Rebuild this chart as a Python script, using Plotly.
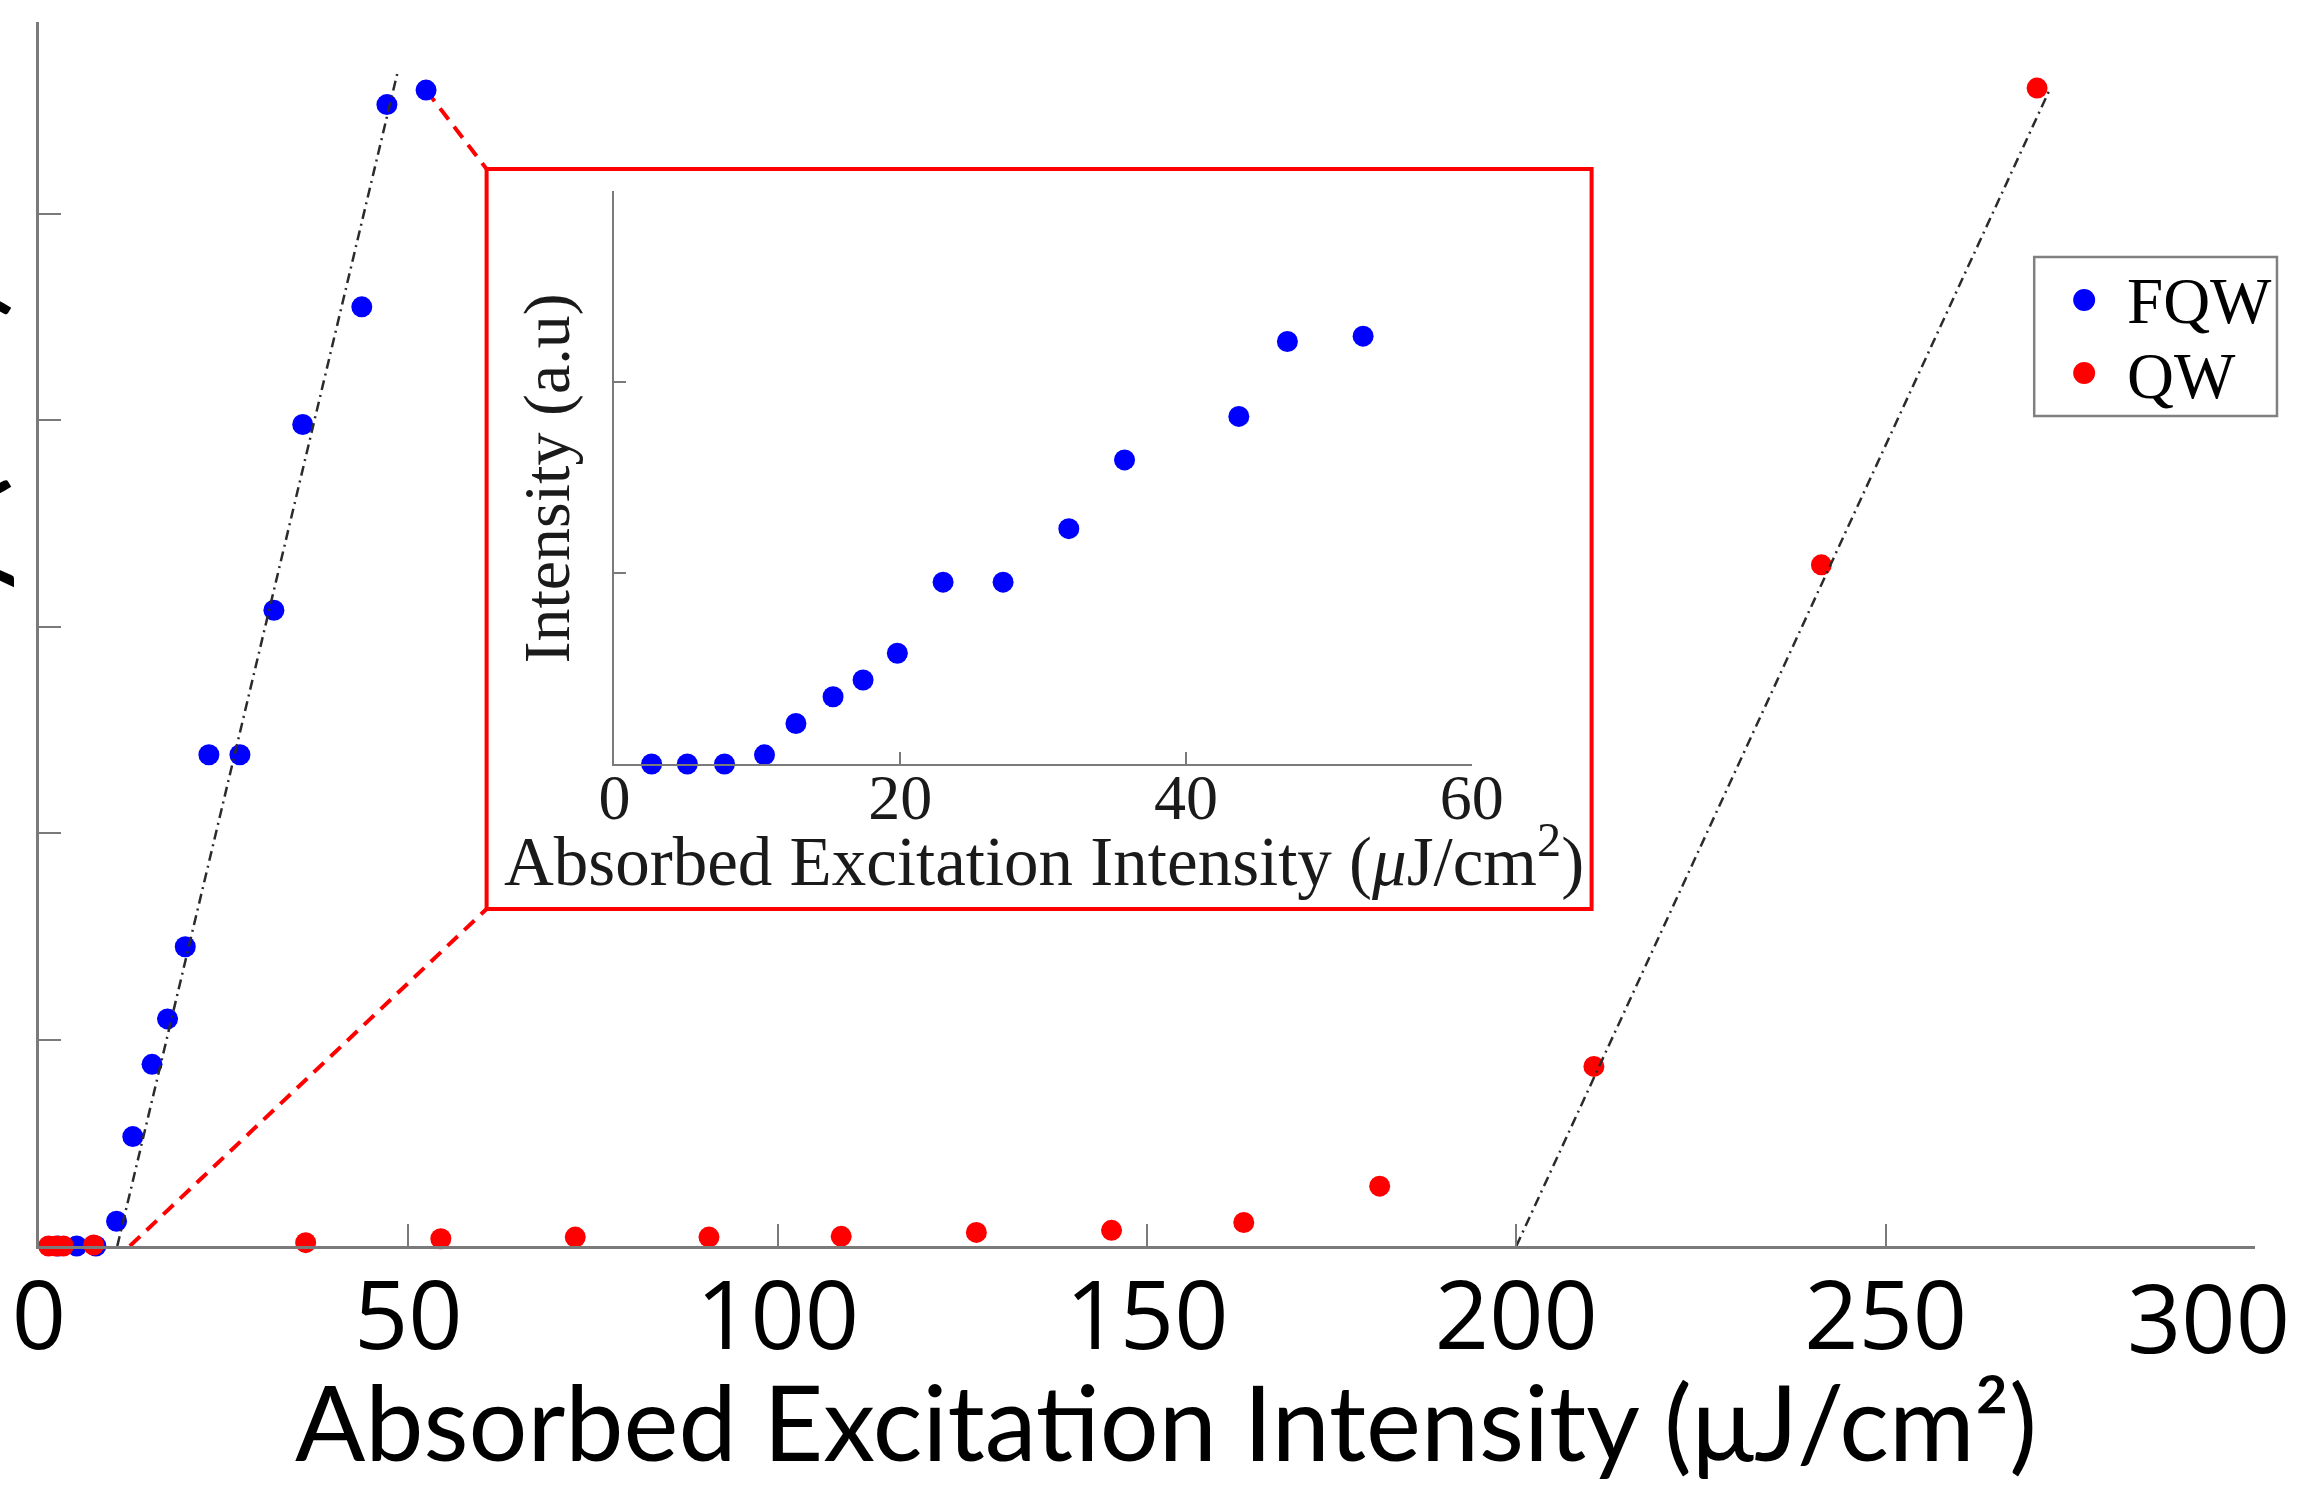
import plotly.graph_objects as go

# ---------------- data ----------------
fqw_x = [2.6, 5.1, 7.7, 10.5, 12.7, 15.3, 17.4, 19.8, 23.0, 27.2, 31.8, 35.7, 43.7, 47.1, 52.4]
fqw_y = [0.0, 0.0, 0.0, 0.12, 0.53, 0.88, 1.10, 1.45, 2.38, 2.38, 3.08, 3.98, 4.55, 5.53, 5.60]

qw_x = [1.3, 2.3, 3.3, 7.4, 36.1, 54.4, 72.6, 90.7, 108.6, 126.9, 145.2, 163.1, 181.5, 210.5, 241.3, 270.5]
qw_y = [0.0, 0.0, 0.0, 0.005, 0.016, 0.035, 0.043, 0.043, 0.047, 0.066, 0.076, 0.114, 0.29, 0.87, 3.30, 5.61]

fit_fqw_x = [10.6, 48.5]
fit_fqw_y = [0.0, 5.68]
fit_qw_x = [200.0, 272.3]
fit_qw_y = [0.0, 5.61]

main_xticks = [0, 50, 100, 150, 200, 250, 300]
inset_xticks = [0, 20, 40, 60]

# zoom-connector anchor points (data units of main axes)
conn_top = (fqw_x[-1], fqw_y[-1])
conn_bottom = (12.3, 0.0)

# ---------------- geometry ----------------
W, H = 2306, 1489
L, R, T, B = 37, 2255, 22, 1246
XMAX, YMAX = 300.0, 5.93


def pxx(px):
    return (px - L) / (R - L)


def pyy(py):
    return (B - py) / (B - T)


def data_x(px):
    return XMAX * pxx(px)


def data_y(py):
    return YMAX * pyy(py)


BLUE = "#0000ff"
RED = "#ff0000"
AXC = "#7a7a7a"
FITC = "#2b2b2b"
SANS = "Lato"
TICKSANS = "Open Sans"
SERIF = "Liberation Serif"
MS = 21

fig = go.Figure()

# main plot data
fig.add_trace(go.Scatter(x=fqw_x, y=fqw_y, mode="markers", name="FQW",
                         marker=dict(color=BLUE, size=MS), cliponaxis=False,
                         showlegend=False))
fig.add_trace(go.Scatter(x=qw_x, y=qw_y, mode="markers", name="QW",
                         marker=dict(color=RED, size=MS), cliponaxis=False,
                         showlegend=False))
fig.add_trace(go.Scatter(x=fit_fqw_x, y=fit_fqw_y, mode="lines",
                         line=dict(color=FITC, width=2.5, dash="10px,5px,2px,5px"),
                         cliponaxis=False, showlegend=False))
fig.add_trace(go.Scatter(x=fit_qw_x, y=fit_qw_y, mode="lines",
                         line=dict(color=FITC, width=2.5, dash="10px,5px,2px,5px"),
                         cliponaxis=False, showlegend=False))

# inset data
fig.add_trace(go.Scatter(x=fqw_x, y=fqw_y, mode="markers", xaxis="x2", yaxis="y2",
                         marker=dict(color=BLUE, size=MS), cliponaxis=False,
                         showlegend=False))

shapes = []
# inset frame
shapes.append(dict(type="rect", xref="paper", yref="paper",
                   x0=pxx(485), x1=pxx(1591), y0=pyy(909), y1=pyy(169),
                   line=dict(color=RED, width=4), fillcolor="white", layer="below"))
# connectors
shapes.append(dict(type="line", xref="x", yref="y",
                   x0=conn_top[0], y0=conn_top[1], x1=data_x(485), y1=data_y(169),
                   line=dict(color=RED, width=4, dash="14px,9px"), layer="below"))
shapes.append(dict(type="line", xref="x", yref="y",
                   x0=conn_bottom[0], y0=conn_bottom[1], x1=data_x(485), y1=data_y(909),
                   line=dict(color=RED, width=4, dash="14px,9px"), layer="below"))
# legend box
shapes.append(dict(type="rect", xref="paper", yref="paper",
                   x0=pxx(2034), x1=pxx(2277), y0=pyy(416), y1=pyy(257),
                   line=dict(color="#808080", width=2.5), fillcolor="white", layer="above"))
for cy, col in [(300, BLUE), (373, RED)]:
    shapes.append(dict(type="circle", xref="paper", yref="paper",
                       x0=pxx(2084 - 11), x1=pxx(2084 + 11), y0=pyy(cy + 11), y1=pyy(cy - 11),
                       line=dict(width=0), fillcolor=col, layer="above"))

annotations = [
    dict(text="Absorbed Excitation Intensity (μJ/cm²)", xref="paper", yref="paper",
         x=pxx(1165), y=pyy(1420), xanchor="center", yanchor="middle", showarrow=False,
         font=dict(family=SANS, size=104, color="black")),
    dict(text="Intensity (a.u)", xref="paper", yref="paper", textangle=-90,
         x=pxx(-57), y=pyy(650), xanchor="center", yanchor="middle", showarrow=False,
         font=dict(family=SANS, size=125, color="black")),
    # last main tick label, pulled inside the page as in the reference
    dict(text=str(main_xticks[-1]), xref="paper", yref="paper",
         x=pxx(2208), y=pyy(1316), xanchor="center", yanchor="middle", showarrow=False,
         font=dict(family=TICKSANS, size=95, color="black")),
    dict(text="Absorbed Excitation Intensity (<i>μ</i>J/cm<sup>2</sup>)", xref="paper", yref="paper",
         x=pxx(1043), y=pyy(856), xanchor="center", yanchor="middle", showarrow=False,
         font=dict(family=SERIF, size=69, color="#1a1a1a")),
    dict(text="Intensity (a.u)", xref="paper", yref="paper", textangle=-90,
         x=pxx(545), y=pyy(479), xanchor="center", yanchor="middle", showarrow=False,
         font=dict(family=SERIF, size=66, color="#1a1a1a")),
    dict(text="FQW", xref="paper", yref="paper", x=pxx(2125), y=pyy(301),
         xanchor="left", yanchor="middle", showarrow=False,
         font=dict(family=SERIF, size=65, color="black")),
    dict(text="QW", xref="paper", yref="paper", x=pxx(2125), y=pyy(376),
         xanchor="left", yanchor="middle", showarrow=False,
         font=dict(family=SERIF, size=65, color="black")),
]

fig.update_layout(
    width=W, height=H,
    margin=dict(l=L, r=W - R, t=T, b=H - B, pad=0),
    paper_bgcolor="white", plot_bgcolor="rgba(0,0,0,0)",
    showlegend=False,
    xaxis=dict(range=[0, XMAX], tickvals=main_xticks[:-1],
               ticktext=[str(v) for v in main_xticks[:-1]],
               minor=dict(tickvals=main_xticks[-1:], ticks="inside", ticklen=22,
                          tickwidth=2, tickcolor=AXC, showgrid=False),
               showline=True, linecolor=AXC, linewidth=2.5, ticks="inside", ticklen=22,
               tickwidth=2, tickcolor=AXC, showgrid=False, zeroline=False,
               tickfont=dict(family=TICKSANS, size=95, color="black"), ticklabelstandoff=-14),
    yaxis=dict(range=[0, YMAX], dtick=1, tick0=0, showline=True, linecolor=AXC, linewidth=2.5,
               ticks="inside", ticklen=22, tickwidth=2, tickcolor=AXC, showgrid=False,
               zeroline=False, showticklabels=False),
    xaxis2=dict(domain=[pxx(613), pxx(1471)], anchor="y2", range=[0, 60],
                tickvals=inset_xticks, ticktext=[str(v) for v in inset_xticks],
                showline=True, linecolor=AXC, linewidth=1.8, ticks="inside", ticklen=12,
                tickwidth=1.5, tickcolor=AXC, showgrid=False, zeroline=False,
                tickfont=dict(family=SERIF, size=64, color="#1a1a1a"), ticklabelstandoff=-24),
    yaxis2=dict(domain=[pyy(764), pyy(191)], anchor="x2", range=[0, 7.5], dtick=2.5, tick0=0,
                showline=True, linecolor=AXC, linewidth=1.8, ticks="inside", ticklen=12,
                tickwidth=1.5, tickcolor=AXC, showgrid=False, zeroline=False,
                showticklabels=False),
    shapes=shapes,
    annotations=annotations,
)

fig.write_html("out.html", config={"displayModeBar": False},
               post_script="document.body.style.margin='0px';document.body.style.overflow='hidden';")
